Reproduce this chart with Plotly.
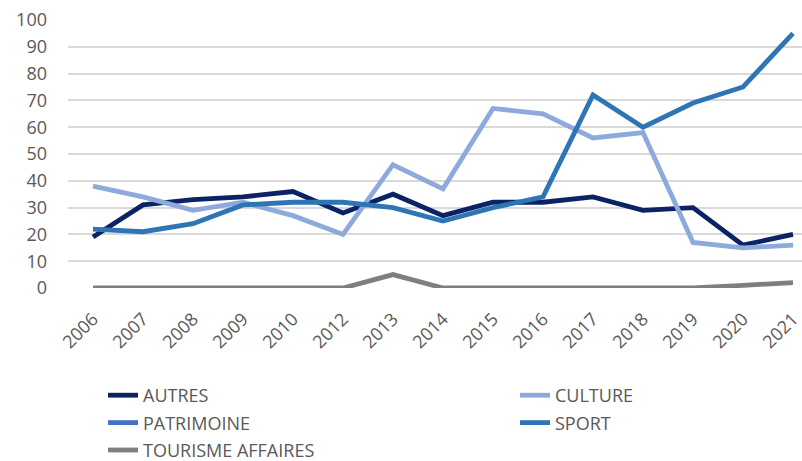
import plotly.graph_objects as go

# Years (2011 absent from the series)
years = ["2006", "2007", "2008", "2009", "2010", "2012", "2013", "2014",
         "2015", "2016", "2017", "2018", "2019", "2020", "2021"]

autres = [19, 31, 33, 34, 36, 28, 35, 27, 32, 32, 34, 29, 30, 16, 20]
culture = [38, 34, 29, 32, 27, 20, 46, 37, 67, 65, 56, 58, 17, 15, 16]
patrimoine = [None, None, None, None, None, None, None, None,
              None, None, None, None, None, None, None]
sport = [22, 21, 24, 31, 32, 32, 30, 25, 30, 34, 72, 60, 69, 75, 95]
tourisme_affaires = [0, 0, 0, 0, 0, 0, 5, 0, 0, 0, 0, 0, 0, 1, 2]

y_ticks = [0, 10, 20, 30, 40, 50, 60, 70, 80, 90, 100]

# name, values, colour, legend column
series = [
    ("AUTRES", autres, "#0B2265", "legend"),
    ("CULTURE", culture, "#8EA9DB", "legend2"),
    ("PATRIMOINE", patrimoine, "#4472C4", "legend"),
    ("SPORT", sport, "#2E75B6", "legend2"),
    ("TOURISME AFFAIRES", tourisme_affaires, "#7F7F7F", "legend"),
]

FONT = "Open Sans"
TEXT = "#595959"
W, H = 802, 461

fig = go.Figure()
for name, values, color, leg in series:
    fig.add_trace(go.Scatter(
        x=years, y=values, name=name, mode="lines",
        line=dict(color=color, width=4.8),
        legend=leg, legendgroup=name,
        connectgaps=False,
    ))

legend_style = dict(
    orientation="v",
    xref="container", yref="container",
    xanchor="left", yanchor="top",
    font=dict(family=FONT, size=18, color=TEXT),
    tracegroupgap=1,
    bgcolor="rgba(0,0,0,0)",
    borderwidth=0,
)

fig.update_layout(
    width=W, height=H,
    margin=dict(l=68, r=0, t=20, b=173, autoexpand=False),
    paper_bgcolor="white", plot_bgcolor="white",
    font=dict(family=FONT, color=TEXT),
    showlegend=True,
    legend=dict(legend_style, x=103 / W, y=(H - 377) / H),
    legend2=dict(legend_style, x=515 / W, y=(H - 377) / H),
)

fig.update_xaxes(
    type="category",
    range=[-0.5, 14.18],
    showgrid=False, zeroline=False, showline=False,
    tickangle=-45,
    tickfont=dict(family=FONT, size=18, color=TEXT),
    ticks="", ticklabelstandoff=16,
)

fig.update_yaxes(
    range=[0, 100],
    tickvals=y_ticks,
    showgrid=True, gridcolor="#D9D9D9", gridwidth=1.5,
    zeroline=False, showline=False,
    tickfont=dict(family=FONT, size=18, color=TEXT),
    ticks="", ticklabelstandoff=20,
)

fig.write_html("out.html")
